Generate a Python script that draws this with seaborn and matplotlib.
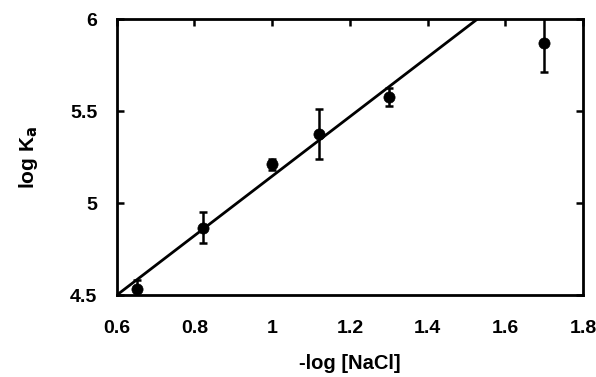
import numpy as np
import pandas as pd
import matplotlib
matplotlib.use("Agg")
import matplotlib.pyplot as plt
import seaborn as sns

# Data
neg_log_nacl = [0.652, 0.822, 1.00, 1.12, 1.30, 1.70]
log_ka = [4.535, 4.865, 5.21, 5.375, 5.575, 5.87]
log_ka_err = [0.045, 0.085, 0.03, 0.135, 0.05, 0.16]

# Linear fit shown in the chart
fit_slope = 1.616
fit_intercept = 3.53

x_ticks = [0.6, 0.8, 1.0, 1.2, 1.4, 1.6, 1.8]
x_tick_labels = ["0.6", "0.8", "1", "1.2", "1.4", "1.6", "1.8"]
y_ticks = [4.5, 5.0, 5.5, 6.0]
y_tick_labels = ["4.5", "5", "5.5", "6"]

sns.set_style("white")
plt.rcParams["font.family"] = ["Liberation Sans", "DejaVu Sans"]
plt.rcParams["font.weight"] = "bold"
plt.rcParams["text.color"] = "black"
plt.rcParams["axes.labelcolor"] = "black"
plt.rcParams["xtick.color"] = "black"
plt.rcParams["ytick.color"] = "black"

fig = plt.figure(figsize=(5.96, 3.77), dpi=100)
ax = fig.add_axes([0.196, 0.2175, 0.782, 0.732])

df = pd.DataFrame({"x": neg_log_nacl, "y": log_ka, "err": log_ka_err})

# fitted line
xl = np.linspace(0.6, 1.8, 50)
line_df = pd.DataFrame({"x": xl, "y": fit_slope * xl + fit_intercept})
sns.lineplot(data=line_df, x="x", y="y", ax=ax, color="black", linewidth=2.0)

ax.errorbar(df["x"], df["y"], yerr=df["err"], fmt="none", ecolor="black",
            elinewidth=1.8, capsize=3, capthick=1.8, clip_on=True)
sns.scatterplot(data=df, x="x", y="y", ax=ax, color="black", s=65,
                edgecolor="black", linewidth=0.5, zorder=5)

ax.set_xlim(0.6, 1.8)
ax.set_ylim(4.5, 6.0)
ax.set_xticks(x_ticks)
ax.set_xticklabels(x_tick_labels)
ax.set_yticks(y_ticks)
ax.set_yticklabels(y_tick_labels)

ax.tick_params(axis="x", direction="in", bottom=False, top=True, length=5,
               width=1.8, labelsize=14, pad=18, labelcolor="black")
ax.tick_params(axis="y", direction="in", left=True, right=True, length=5,
               width=1.8, labelsize=14, pad=14, labelcolor="black")
for lab in ax.get_xticklabels() + ax.get_yticklabels():
    lab.set_fontweight("bold")

for sp in ax.spines.values():
    sp.set_visible(True)
    sp.set_linewidth(2.0)
    sp.set_color("black")

ax.set_xlabel("-log [NaCl]", fontsize=14.5, fontweight="bold", labelpad=12,
              color="black")
ax.set_ylabel("log K$_\\mathbf{a}$", fontsize=15, fontweight="bold", labelpad=22,
              color="black")

fig.savefig("out.png", dpi=100)
